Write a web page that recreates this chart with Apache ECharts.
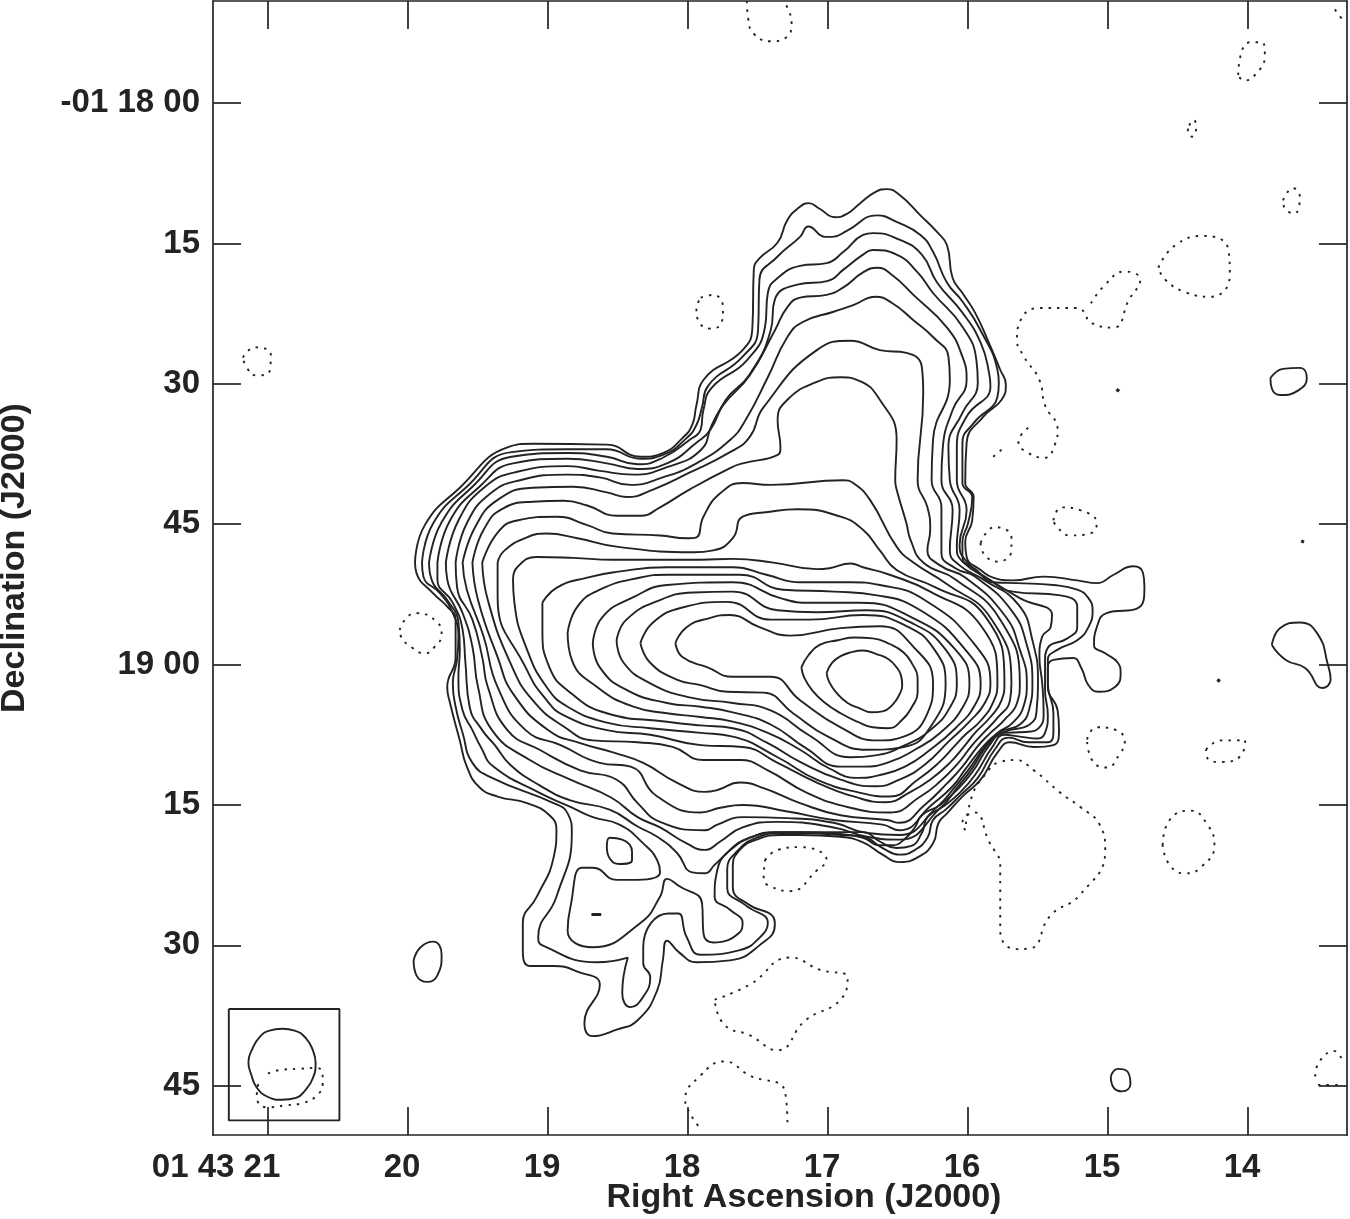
<!DOCTYPE html>
<html><head><meta charset="utf-8">
<style>html,body{margin:0;padding:0;background:#fff}#c{width:1350px;height:1219px}</style>
<script src="https://cdn.jsdelivr.net/npm/echarts@6/dist/echarts.min.js"></script>
</head><body><div id="c"></div>
<script>
// Coordinates: [right ascension seconds past 01 43 m, declination arcsec south of -01 18 00]
const raTicks=[21,20,19,18,17,16,15,14];
const raTickLabels=['01 43 21','20','19','18','17','16','15','14'];
const decTicks=[0,15,30,45,60,75,90,105];
const decTickLabels=['-01 18 00','15','30','45','19 00','15','30','45'];

const contour01=[[19.95,49.1],[19.88,45.1],[19.63,41.1],[19.29,36.8],[19.11,36.4],[18.58,36.5],[18.34,37.8],[18.18,37.4],[18.04,35.8],[17.97,34.4],[17.94,32.3],[17.89,29.6],[17.61,26.4],[17.54,23.9],[17.53,17.8],[17.49,16.6],[17.36,14.9],[17.29,12.5],[17.21,11.2],[17.14,10.7],[17.06,11.3],[16.95,12.2],[16.86,11.8],[16.77,10.7],[16.66,9.5],[16.58,9.2],[16.49,9.8],[16.34,12.0],[16.22,13.8],[16.15,15.2],[16.11,18.7],[16.04,20.3],[15.95,22.4],[15.86,25.3],[15.77,28.5],[15.73,30.1],[15.76,31.7],[15.89,33.5],[16.01,36.3],[16.02,40.6],[15.96,42.1],[15.97,44.6],[16.02,46.9],[16.01,48.5],[15.91,49.9],[15.82,50.7],[15.68,51.0],[15.46,50.6],[15.22,51.0],[15.08,51.3],[14.96,50.4],[14.82,49.5],[14.75,50.2],[14.74,51.7],[14.79,54.0],[15.01,54.5],[15.08,56.0],[15.10,57.9],[15.02,58.8],[14.93,59.8],[14.91,60.9],[14.95,62.4],[15.07,62.9],[15.14,62.2],[15.19,60.4],[15.25,59.3],[15.39,59.5],[15.43,60.3],[15.43,62.4],[15.36,64.9],[15.35,67.0],[15.39,68.6],[15.53,68.8],[15.70,68.3],[15.79,69.4],[15.91,72.3],[16.04,74.1],[16.15,75.9],[16.21,76.9],[16.25,79.1],[16.36,80.6],[16.49,81.1],[16.61,80.3],[16.75,79.0],[16.91,78.4],[17.20,78.2],[17.34,78.2],[17.51,78.7],[17.63,79.8],[17.68,81.6],[17.68,83.8],[17.56,85.7],[17.40,86.8],[17.38,87.8],[17.49,90.0],[17.70,91.6],[17.94,91.8],[18.06,90.8],[18.15,89.5],[18.18,91.6],[18.22,94.8],[18.36,98.0],[18.51,99.0],[18.68,99.7],[18.74,98.3],[18.63,94.2],[18.79,92.8],[18.96,92.2],[19.13,92.2],[19.18,90.5],[19.18,87.6],[19.08,84.8],[18.96,80.6],[18.94,77.7],[18.99,76.1],[19.15,74.8],[19.36,74.1],[19.49,73.1],[19.58,70.9],[19.63,68.1],[19.70,64.1],[19.72,62.4],[19.66,59.2],[19.66,55.2],[19.72,53.8],[19.82,52.4],[19.94,50.2],[19.95,49.1]];
const contour02=[[19.90,49.1],[19.82,44.9],[19.58,41.0],[19.26,37.3],[18.86,37.0],[18.58,37.0],[18.34,38.0],[18.18,37.6],[18.01,35.8],[17.94,34.4],[17.90,32.5],[17.86,30.3],[17.61,27.1],[17.50,24.3],[17.49,18.9],[17.36,16.4],[17.20,14.3],[17.14,13.2],[17.02,14.3],[16.97,14.3],[16.86,13.6],[16.65,12.0],[16.51,12.7],[16.34,14.1],[16.25,15.9],[16.15,19.2],[16.04,21.2],[15.91,24.3],[15.79,28.5],[15.78,29.9],[15.79,31.4],[15.96,34.2],[16.04,36.3],[16.04,40.6],[15.97,42.1],[16.00,44.9],[16.04,46.9],[16.04,48.5],[15.94,49.9],[15.82,51.2],[15.65,51.3],[15.39,51.5],[15.22,52.0],[15.14,52.9],[15.11,54.2],[15.14,56.0],[15.22,57.4],[15.36,58.4],[15.43,59.5],[15.43,62.0],[15.39,65.2],[15.39,67.3],[15.43,68.3],[15.57,68.3],[15.71,67.8],[15.81,69.1],[15.93,72.1],[16.05,73.9],[16.16,75.5],[16.25,76.6],[16.29,78.5],[16.39,79.9],[16.49,80.3],[16.61,79.6],[16.75,78.4],[16.91,78.2],[17.20,78.0],[17.34,78.0],[17.51,78.5],[17.64,79.8],[17.72,81.9],[17.72,83.9],[17.59,85.7],[17.43,87.6],[17.49,89.2],[17.63,90.5],[17.91,91.0],[18.01,89.1],[18.07,86.6],[18.14,86.6],[18.32,90.2],[18.32,91.9],[18.27,93.4],[18.32,95.5],[18.41,96.6],[18.47,95.1],[18.43,91.3],[18.65,91.8],[19.04,90.0],[19.07,89.1],[18.94,84.8],[18.83,78.0],[18.86,75.9],[18.96,74.8],[19.40,72.1],[19.54,70.5],[19.61,67.3],[19.66,64.5],[19.68,62.0],[19.65,59.5],[19.64,57.0],[19.68,54.5],[19.77,52.4],[19.89,50.6],[19.90,49.1]];
const contour03=[[19.85,49.1],[19.76,44.8],[19.54,41.0],[19.26,37.8],[18.86,37.4],[18.58,37.8],[18.36,38.6],[18.18,37.9],[17.99,36.0],[17.91,34.9],[17.89,32.8],[17.83,30.4],[17.58,27.5],[17.45,23.9],[17.43,20.3],[17.36,18.7],[17.20,17.4],[17.01,17.1],[16.89,15.9],[16.75,14.1],[16.68,13.9],[16.49,14.6],[16.33,16.2],[16.22,19.2],[16.04,22.4],[15.91,25.6],[15.85,28.8],[15.84,30.3],[16.01,33.5],[16.08,36.8],[16.08,40.3],[16.01,43.5],[16.06,47.2],[16.02,48.8],[15.84,51.0],[15.68,52.2],[15.34,52.6],[15.22,53.8],[15.22,56.0],[15.29,57.2],[15.43,58.2],[15.45,59.8],[15.45,62.7],[15.43,65.4],[15.45,67.3],[15.50,67.9],[15.63,67.7],[15.74,67.5],[15.83,68.9],[15.95,71.8],[16.06,73.7],[16.18,75.2],[16.29,76.3],[16.33,78.0],[16.41,79.4],[16.51,79.6],[16.63,78.9],[16.75,77.9],[16.91,77.9],[17.20,77.9],[17.38,77.9],[17.56,78.5],[17.70,79.8],[17.79,81.9],[17.81,84.8],[17.70,86.2],[17.61,87.6],[17.63,88.6],[17.82,89.7],[17.89,88.7],[17.90,85.5],[18.07,83.6],[18.15,82.9],[18.20,84.8],[18.34,87.6],[18.68,90.2],[18.86,88.4],[18.84,85.9],[18.76,81.7],[18.68,81.7],[18.51,83.0],[18.36,83.0],[18.20,82.2],[18.22,80.9],[18.32,79.1],[18.49,77.1],[18.68,76.3],[18.84,75.2],[19.06,73.7],[19.39,70.9],[19.48,68.8],[19.54,67.0],[19.61,64.9],[19.64,61.3],[19.63,58.4],[19.64,55.5],[19.72,53.1],[19.83,51.0],[19.85,49.1]];
const contour04=[[19.79,49.1],[19.70,44.6],[19.49,41.0],[19.25,38.5],[18.86,38.0],[18.58,38.5],[18.36,39.1],[18.15,38.5],[17.94,36.3],[17.84,34.9],[17.73,31.7],[17.56,29.0],[17.41,24.3],[17.38,21.0],[17.22,19.4],[17.00,19.0],[16.89,17.8],[16.75,16.2],[16.68,15.7],[16.51,16.2],[16.36,18.1],[16.25,20.3],[16.04,23.9],[15.94,27.5],[15.93,29.9],[16.04,33.1],[16.14,36.8],[16.13,40.3],[16.06,43.5],[16.08,47.4],[16.04,49.0],[15.84,51.0],[15.63,52.9],[15.40,54.7],[15.41,56.0],[15.47,57.0],[15.49,59.2],[15.47,62.0],[15.46,65.2],[15.49,66.7],[15.59,67.2],[15.75,67.3],[15.85,68.7],[15.97,71.5],[16.08,73.4],[16.20,75.0],[16.33,76.1],[16.38,77.4],[16.45,78.6],[16.54,79.3],[16.63,79.3],[16.75,78.5],[16.91,78.1],[17.20,77.9],[17.34,77.9],[17.56,78.5],[17.68,79.6],[17.81,81.4],[17.88,82.3],[17.97,82.2],[18.08,80.1],[18.22,78.4],[18.36,77.3],[18.56,75.5],[18.84,74.5],[19.06,72.9],[19.27,70.7],[19.38,68.6],[19.47,67.0],[19.56,64.5],[19.59,59.8],[19.61,56.3],[19.68,53.4],[19.79,50.9],[19.79,49.1]];
const contour05=[[19.73,49.1],[19.64,44.6],[19.45,41.0],[19.22,39.4],[18.86,38.8],[18.63,39.3],[18.39,39.7],[18.15,38.9],[17.91,37.1],[17.83,34.4],[17.75,32.3],[17.56,29.1],[17.38,24.3],[17.29,21.8],[17.20,20.8],[17.01,20.5],[16.89,19.7],[16.75,18.1],[16.65,17.6],[16.54,18.4],[16.39,20.5],[16.15,24.0],[16.04,27.1],[16.01,29.6],[16.11,32.8],[16.18,36.8],[16.19,40.3],[16.11,43.5],[16.13,47.8],[16.06,49.4],[15.88,51.0],[15.64,53.6],[15.54,57.4],[15.50,62.0],[15.51,64.9],[15.56,66.4],[15.74,67.2],[15.86,68.6],[15.98,71.3],[16.07,73.0],[16.19,75.2],[16.49,78.7],[16.72,78.4],[16.96,77.4],[17.36,76.8],[17.61,77.4],[17.77,78.9],[17.88,79.8],[18.01,79.1],[18.20,77.4],[18.36,76.3],[18.55,74.2],[18.84,72.3],[19.13,70.2],[19.40,67.0],[19.50,62.4],[19.54,58.1],[19.61,54.5],[19.72,50.9],[19.73,49.1]];
const contour06=[[19.66,49.1],[19.58,44.9],[19.41,41.7],[19.20,40.3],[18.86,39.7],[18.63,40.0],[18.41,40.8],[18.18,40.0],[17.94,38.5],[17.70,36.0],[17.59,33.9],[17.43,29.3],[17.29,25.0],[17.18,23.4],[16.96,22.3],[16.82,21.6],[16.66,20.7],[16.54,21.4],[16.39,23.2],[16.25,25.0],[16.14,27.1],[16.13,29.6],[16.25,36.0],[16.26,40.3],[16.19,43.2],[16.19,48.1],[16.09,49.7],[15.95,50.6],[15.69,54.2],[15.58,57.9],[15.54,62.0],[15.56,64.6],[15.63,66.4],[15.77,67.2],[15.87,68.6],[16.00,71.3],[16.09,73.0],[16.22,75.2],[16.49,78.2],[16.72,78.0],[16.96,76.9],[17.29,76.4],[17.61,76.3],[17.79,77.1],[17.88,77.7],[18.20,76.8],[18.36,74.8],[18.51,72.3],[18.77,71.3],[19.06,69.1],[19.29,67.0],[19.43,62.4],[19.47,59.2],[19.54,55.2],[19.65,51.7],[19.66,49.1]];
const contour07=[[19.61,49.1],[19.52,45.3],[19.36,42.4],[19.11,41.1],[18.82,41.0],[18.58,41.6],[18.44,42.1],[18.25,41.3],[17.99,39.5],[17.70,37.3],[17.56,35.7],[17.46,32.5],[17.08,26.4],[16.84,25.4],[16.63,26.4],[16.44,26.7],[16.33,28.2],[16.32,31.0],[16.36,40.3],[16.29,43.2],[16.27,45.6],[16.29,47.8],[16.20,49.4],[16.02,50.7],[15.74,54.7],[15.63,58.4],[15.58,62.0],[15.60,64.3],[15.68,66.2],[15.79,67.3],[15.89,68.7],[16.02,71.2],[16.11,73.0],[16.26,75.0],[16.49,77.7],[16.61,77.1],[16.96,76.6],[17.29,75.7],[17.61,75.0],[17.77,75.3],[17.91,75.8],[18.22,74.1],[18.41,70.9],[18.63,70.5],[18.91,68.6],[19.16,67.0],[19.36,62.4],[19.46,57.0],[19.58,52.0],[19.61,49.1]];
const contour08=[[19.54,49.1],[19.46,45.6],[19.32,43.3],[19.11,42.6],[18.89,42.5],[18.72,43.0],[18.51,44.1],[18.34,44.1],[18.20,43.2],[17.99,41.3],[17.70,39.0],[17.61,38.5],[17.36,37.6],[17.34,36.8],[17.36,33.9],[17.29,31.7],[17.08,29.8],[16.91,29.3],[16.79,29.6],[16.63,31.7],[16.51,36.0],[16.52,40.3],[16.51,41.3],[16.44,44.9],[16.41,46.7],[16.32,49.1],[16.09,50.9],[15.77,55.2],[15.63,62.0],[15.65,64.1],[15.74,65.9],[15.84,67.3],[15.93,68.7],[16.04,70.9],[16.15,72.7],[16.31,75.0],[16.49,76.9],[16.58,76.6],[16.91,76.1],[17.20,74.8],[17.46,73.2],[17.63,72.6],[17.79,73.4],[17.88,73.6],[18.08,72.6],[18.32,70.5],[18.53,69.4],[18.77,68.4],[19.00,67.0],[19.25,63.1],[19.36,59.2],[19.50,53.1],[19.54,49.1]];
const contour09=[[19.47,49.1],[19.36,45.9],[19.22,44.6],[18.94,44.2],[18.72,45.1],[18.54,46.0],[18.20,46.2],[18.01,46.5],[17.94,46.4],[17.89,44.2],[17.77,41.7],[17.61,40.6],[17.41,40.8],[16.89,40.3],[16.82,40.6],[16.70,42.4],[16.51,47.4],[16.39,49.1],[16.16,51.3],[15.83,55.2],[15.69,62.0],[15.70,63.8],[15.79,65.7],[15.89,67.3],[15.97,68.6],[16.08,70.7],[16.20,72.5],[16.34,74.1],[16.56,75.8],[16.84,75.3],[17.15,73.7],[17.43,71.3],[17.63,70.2],[17.89,70.2],[18.11,68.8],[18.36,68.3],[18.68,68.1],[18.88,66.7],[19.11,63.8],[19.27,59.8],[19.43,53.1],[19.47,49.1]];
const contour10=[[19.36,49.1],[19.31,47.8],[19.15,46.4],[19.01,46.0],[18.79,46.5],[18.51,47.4],[17.96,48.0],[17.82,47.8],[17.68,46.5],[17.61,44.2],[17.43,43.7],[17.22,43.4],[16.91,44.2],[16.75,45.6],[16.63,47.8],[16.51,49.9],[16.24,51.7],[15.88,54.8],[15.74,62.0],[15.76,63.8],[15.84,65.6],[15.95,67.3],[16.02,68.6],[16.13,70.5],[16.27,72.3],[16.41,73.6],[16.59,74.7],[16.77,74.3],[17.08,72.6],[17.36,70.5],[17.61,68.8],[17.91,68.6],[18.27,67.5],[18.58,67.0],[18.89,65.4],[19.01,63.8],[19.15,60.6],[19.36,52.8],[19.36,49.1]];
const contour11=[[19.25,50.9],[19.22,49.6],[19.08,48.5],[18.82,48.6],[18.54,48.8],[17.91,48.8],[17.68,48.7],[17.39,49.1],[17.08,49.8],[16.99,49.7],[16.84,49.2],[16.75,49.6],[16.56,50.4],[16.27,52.2],[15.91,55.8],[15.79,62.0],[15.82,64.0],[15.91,66.0],[16.02,67.5],[16.09,68.6],[16.21,70.5],[16.36,72.3],[16.56,74.1],[16.77,73.7],[17.08,72.3],[17.36,69.9],[17.68,67.7],[17.91,67.3],[18.27,66.8],[18.58,66.2],[18.86,64.5],[19.01,62.4],[19.15,58.4],[19.24,53.4],[19.25,50.9]];
const contour12=[[19.04,53.4],[18.94,51.8],[18.72,50.7],[18.51,50.1],[18.15,49.6],[17.68,49.6],[17.44,50.4],[17.20,51.2],[16.84,51.2],[16.63,51.5],[16.31,53.1],[15.95,57.9],[15.84,62.0],[15.88,64.1],[15.99,66.1],[16.13,68.1],[16.31,70.7],[16.49,72.3],[16.66,73.0],[16.91,72.3],[17.20,70.4],[17.43,68.4],[17.68,66.8],[17.91,66.5],[18.15,66.1],[18.58,65.2],[18.84,63.0],[18.99,60.3],[19.04,56.3],[19.04,53.4]];
const contour13=[[18.86,56.6],[18.79,53.8],[18.63,52.0],[18.34,50.7],[18.15,50.4],[17.63,50.4],[17.32,52.0],[16.96,52.2],[16.65,52.6],[16.34,54.2],[16.02,58.4],[15.91,62.0],[15.95,64.3],[16.09,66.8],[16.27,69.1],[16.45,70.9],[16.63,71.8],[16.79,72.1],[16.99,71.1],[17.20,69.1],[17.43,67.3],[17.68,66.1],[17.91,65.6],[18.15,65.2],[18.39,64.5],[18.65,62.4],[18.83,59.5],[18.86,56.6]];
const contour14=[[18.68,57.7],[18.61,54.9],[18.39,52.8],[18.15,51.5],[17.68,51.2],[17.34,52.9],[17.13,53.4],[16.77,53.4],[16.41,54.9],[16.09,58.4],[15.99,62.0],[16.04,64.6],[16.20,67.3],[16.38,69.1],[16.56,70.4],[16.75,70.9],[16.91,70.9],[17.16,68.9],[17.41,66.4],[17.68,65.1],[17.91,64.5],[18.15,64.1],[18.44,62.7],[18.63,60.3],[18.68,57.7]];
const contour15=[[18.51,57.4],[18.44,55.2],[18.20,53.1],[17.96,52.3],[17.68,52.2],[17.36,54.2],[17.08,54.4],[16.72,54.2],[16.41,55.5],[16.16,58.4],[16.08,62.0],[16.13,64.6],[16.27,67.0],[16.45,68.6],[16.66,69.7],[16.84,69.9],[17.13,67.6],[17.41,64.9],[17.68,64.1],[17.99,63.5],[18.27,62.0],[18.46,59.8],[18.51,57.4]];
const contour16=[[18.34,57.7],[18.25,55.5],[18.04,53.9],[17.72,53.3],[17.41,55.2],[17.13,55.2],[16.75,54.7],[16.45,55.8],[16.24,58.4],[16.16,62.0],[16.27,66.7],[16.46,68.8],[16.72,69.1],[17.00,67.7],[17.25,65.2],[17.46,63.0],[17.72,62.9],[17.91,62.2],[18.08,61.6],[18.27,59.8],[18.34,57.7]];
const contour17=[[18.09,57.7],[18.01,56.0],[17.84,55.0],[17.70,54.7],[17.49,56.0],[17.27,56.9],[16.91,56.1],[16.63,55.9],[16.39,58.1],[16.25,62.0],[16.29,65.2],[16.46,67.7],[16.65,68.1],[16.91,66.7],[17.20,63.8],[17.41,61.3],[17.68,61.3],[17.86,60.3],[18.04,59.2],[18.09,57.7]];
const contour18=[[17.19,60.3],[17.17,61.4],[17.11,62.8],[17.02,64.1],[16.91,65.2],[16.79,66.1],[16.68,66.7],[16.57,66.8],[16.47,65.9],[16.40,64.5],[16.36,63.0],[16.36,61.4],[16.40,59.9],[16.46,58.7],[16.56,57.8],[16.68,57.2],[16.81,57.1],[16.93,57.4],[17.06,57.9],[17.14,59.0],[17.19,60.3]];
const contour19=[[17.01,60.9],[16.99,61.9],[16.94,63.0],[16.86,64.1],[16.77,64.7],[16.69,65.1],[16.61,65.0],[16.54,64.3],[16.49,63.2],[16.47,62.2],[16.48,61.1],[16.51,60.3],[16.57,59.4],[16.65,58.9],[16.75,58.5],[16.84,58.7],[16.91,59.1],[16.97,59.8],[17.01,60.9]];
const islandInner=[[18.58,79.5],[18.56,78.5],[18.47,78.7],[18.40,80.0],[18.40,80.9],[18.49,81.3],[18.56,80.7],[18.58,79.5]];
const islandWest=[[19.96,91.6],[19.91,90.2],[19.82,89.6],[19.76,91.0],[19.79,93.2],[19.86,93.9],[19.94,93.2],[19.96,91.6]];
const islandNE=[[13.84,29.4],[13.75,28.4],[13.63,28.3],[13.58,29.4],[13.64,30.7],[13.77,31.2],[13.83,30.5],[13.84,29.4]];
const islandE=[[13.83,57.9],[13.77,56.1],[13.63,55.5],[13.50,56.8],[13.43,60.0],[13.41,61.6],[13.47,62.5],[13.59,60.4],[13.73,59.5],[13.83,57.9]];
const islandSE=[[14.98,104.0],[14.93,103.2],[14.86,103.5],[14.84,104.8],[14.90,105.6],[14.96,105.2],[14.98,104.0]];
const islandDash=[[18.69,86.7],[18.62,86.7]];
const spot1=[[14.94,30.6],[14.92,30.8]];
const spot2=[[13.62,46.8],[13.60,46.9]];
const spot3=[[14.22,61.6],[14.20,61.8]];

const negTop=[[17.58,-10.9],[17.57,-9],[17.53,-7.4],[17.41,-6.6],[17.31,-6.9],[17.26,-8.4],[17.29,-10.2],[17.33,-10.9]];
const negA=[[14.07,-3.0],[14.06,-4.6],[13.98,-6.5],[13.90,-6.5],[13.88,-5.1],[13.95,-3.0],[14.03,-2.4],[14.07,-3.0]];
const negB=[[14.42,2.4],[14.39,1.8],[14.37,2.6],[14.40,3.6],[14.43,3.0],[14.42,2.4]];
const negC=[[13.75,10.4],[13.68,9.1],[13.63,10.0],[13.67,11.8],[13.74,11.2],[13.75,10.4]];
const negD=[[14.64,17.6],[14.52,15.2],[14.31,14.2],[14.14,15.7],[14.13,18.4],[14.27,20.7],[14.45,20.2],[14.59,18.9],[14.64,17.6]];
const negE1=[[15.82,37.8],[15.75,36.9]];
const negE2=[[15.57,34.7],[15.64,36.2],[15.58,37.3],[15.45,37.9],[15.38,36.5],[15.36,34.9],[15.45,32.3],[15.49,29.6],[15.60,27.1],[15.65,25.3],[15.63,23.4],[15.49,21.9],[15.24,21.9],[15.17,22.3],[15.13,23.4],[14.96,24.0],[14.85,21.0],[14.77,18.9],[14.88,18.0],[15.02,19.4],[15.13,21.6]];
const negF=[[15.39,44.6],[15.33,43.2],[15.20,43.5],[15.08,44.9],[15.13,46.0],[15.27,46.2],[15.36,45.4],[15.39,44.6]];
const negG=[[15.91,47.0],[15.81,45.3],[15.69,46.4],[15.69,47.8],[15.79,49.0],[15.89,48.1],[15.91,47.0]];
const negH=[[17.91,20.8],[17.82,20.5],[17.75,21.9],[17.76,23.5],[17.85,24.1],[17.92,23.4],[17.94,22.1],[17.91,20.8]];
const negI=[[21.18,27.2],[21.09,26.1],[20.98,26.9],[20.99,28.7],[21.09,29.1],[21.15,28.3],[21.18,27.2]];
const negJ=[[20.06,56.3],[20.01,55.0],[19.94,54.5],[19.79,55.5],[19.76,56.8],[19.81,58.1],[19.88,58.8],[19.97,58.2],[20.05,57.0],[20.06,56.3]];
const negK=[[15.15,68.0],[15.08,66.7],[14.94,67.0],[14.88,68.4],[14.91,69.4],[15.01,71.0],[15.11,70.3],[15.15,68.0]];
const negL=[[14.30,69.1],[14.19,68.1],[14.02,68.1],[14.05,69.7],[14.19,70.4],[14.29,70.0],[14.30,69.1]];
const negM=[[14.61,79.3],[14.56,76.6],[14.41,75.6],[14.29,77.1],[14.24,79.3],[14.34,81.7],[14.45,82.3],[14.56,81.4],[14.61,79.3]];
const negN=[[16.02,77.7],[16.04,76.9],[15.95,75.8],[15.85,78.9],[15.81,79.9],[15.77,81.2],[15.77,84.8],[15.77,88.4],[15.66,90.4],[15.55,90.3],[15.41,86.8],[15.20,84.6],[15.02,79.8],[15.06,77.1],[15.20,75.2],[15.34,73.7],[15.53,71.3],[15.66,70.2],[15.77,70.4],[15.88,71.8],[15.97,74.0],[16.02,77.7]];
const negO=[[17.45,80.9],[17.36,79.8],[17.20,79.5],[17.01,80.9],[17.08,82.0],[17.27,84.2],[17.41,83.7],[17.46,82.9],[17.45,80.9]];
const negP=[[17.81,95.8],[17.56,94.2],[17.27,91.3],[17.06,92.6],[16.86,93.5],[16.91,95.8],[17.16,98.0],[17.36,101.2],[17.56,99.6],[17.74,98.5],[17.81,95.8]];
const negQ=[[17.29,108.9],[17.31,105.5],[17.56,103.9],[17.74,102.4],[17.91,103.9],[18.02,106.5],[17.98,108.1],[17.91,109.6]];
const negR=[[13.38,-10],[13.33,-9]];
const negS=[[13.52,104.0],[13.49,102.4],[13.38,101.3],[13.33,102.2]];
const negT=[[13.50,104.9],[13.33,104.9]];
const beamBox=[[21.28,96.8],[20.49,96.8],[20.49,108.7],[21.28,108.7],[21.28,96.8]];
const beam=[[20.90,98.9],[20.81,99.1],[20.73,99.9],[20.68,101.2],[20.66,102.6],[20.68,104.2],[20.73,105.4],[20.80,106.3],[20.90,106.5],[21.00,106.2],[21.08,105.2],[21.12,103.8],[21.14,102.5],[21.11,101.0],[21.06,99.8],[20.99,99.1],[20.90,98.9]];
const beamNeg=[[21.00,103.7],[20.91,103.3],[20.79,103.2],[20.65,103.1],[20.61,103.8],[20.61,104.9],[20.65,106.0],[20.74,106.8],[20.88,107.1],[21.00,107.3],[21.07,106.8],[21.08,105.9],[21.07,104.9],[21.04,104.7]];

const solidContours=[contour01,contour02,contour03,contour04,contour05,contour06,contour07,contour08,contour09,contour10,contour11,contour12,contour13,contour14,contour15,contour16,contour17,contour18,contour19,islandInner,islandWest,islandNE,islandE,islandSE,beam];
const heavySpots=[islandDash,spot1,spot2,spot3];
const dottedContours=[negTop,negA,negB,negC,negD,negE1,negE2,negF,negG,negH,negI,negJ,negK,negL,negM,negN,negO,negP,negQ,negR,negS,negT,beamNeg];

const ink='#232323';
const line=(d,style,smooth)=>({type:'line',data:d,symbol:'none',smooth:smooth,silent:true,animation:false,clip:true,
  lineStyle:Object.assign({color:ink,width:1.9},style)});
const series=[]
  .concat(solidContours.map(d=>line(d,{},0.5)))
  .concat([line(beamBox,{},false)])
  .concat(heavySpots.map(d=>line(d,{width:3.2},false)))
  .concat(dottedContours.map(d=>line(d,{type:[2.5,6],width:1.9},0.5)));

const xMin=13.293,xMax=21.393,yMin=-10.9,yMax=110.26;
const font='"Liberation Sans",Arial,sans-serif';
const tick={show:true,inside:true,length:28,lineStyle:{color:ink,width:1.7}};
const axLine={show:true,onZero:false,lineStyle:{color:ink,width:1.7}};
const xTick=Object.assign({},tick,{customValues:raTicks});
const yTick=Object.assign({},tick,{customValues:decTicks});

const chart=echarts.init(document.getElementById('c'),null,{renderer:'canvas'});
chart.setOption({
  backgroundColor:'#fff',animation:false,
  grid:{left:213,top:1,width:1134,height:1134,containLabel:false,outerBoundsMode:'none'},
  xAxis:[{type:'value',inverse:true,min:xMin,max:xMax,position:'bottom',axisLine:axLine,axisTick:xTick,splitLine:{show:false},
      name:'Right Ascension (J2000)',nameLocation:'middle',nameGap:46,nameMoveOverlap:false,
      nameTextStyle:{color:ink,fontFamily:font,fontWeight:'bold',fontSize:34,padding:[0,0,0,48]},
      axisLabel:{customValues:raTicks,margin:16,color:ink,fontFamily:font,fontWeight:'bold',fontSize:33,padding:[0,12,0,0],
        formatter:v=>{const s=raTickLabels[raTicks.indexOf(v)];return v===21?'{a|'+s+'}{p|}':'{a|'+s+'}';},
        rich:{a:{color:ink,fontFamily:font,fontWeight:'bold',fontSize:33},p:{width:92}}}},
    {type:'value',inverse:true,min:xMin,max:xMax,position:'top',axisLine:axLine,axisTick:xTick,axisLabel:{show:false},splitLine:{show:false}}],
  yAxis:[{type:'value',inverse:true,min:yMin,max:yMax,position:'left',axisLine:axLine,axisTick:yTick,splitLine:{show:false},
      name:'Declination (J2000)',nameLocation:'middle',nameGap:181,nameRotate:90,nameMoveOverlap:false,
      nameTextStyle:{color:ink,fontFamily:font,fontWeight:'bold',fontSize:34,padding:[0,0,0,20]},
      axisLabel:{customValues:decTicks,margin:13,color:ink,fontFamily:font,fontWeight:'bold',fontSize:33,padding:[16,0,0,0],
        formatter:v=>decTickLabels[decTicks.indexOf(v)]}},
    {type:'value',inverse:true,min:yMin,max:yMax,position:'right',axisLine:axLine,axisTick:yTick,axisLabel:{show:false},splitLine:{show:false}}],
  series:series
});
</script></body></html>
